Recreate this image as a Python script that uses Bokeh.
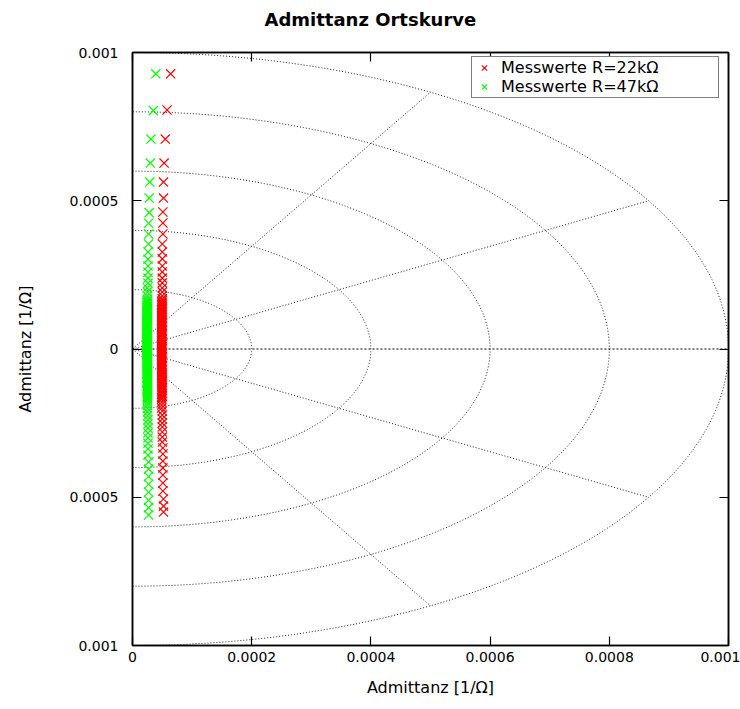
import numpy as np
from bokeh.plotting import figure
from bokeh.models import Range1d, LinearAxis, FixedTicker, Legend, LegendItem
from bokeh.embed import file_html
from bokeh.resources import INLINE

# ---------------- data (values in units of 1e-4 S) ----------------
UNIT = 1e-4

red_x_e4 = [
    # upper sparse part
    0.64, 0.58, 0.55, 0.53, 0.52, 0.52, 0.51, 0.51, 0.51, 0.50,
    0.50, 0.50, 0.50, 0.50, 0.50, 0.50, 0.50, 0.50, 0.50, 0.50,
    # dense part
    0.50, 0.49, 0.50, 0.49, 0.49, 0.50, 0.49, 0.50, 0.49, 0.49,
    0.50, 0.49, 0.49, 0.50, 0.49, 0.49, 0.50, 0.49, 0.49, 0.49,
    0.50, 0.49, 0.49, 0.49, 0.50, 0.49, 0.49, 0.49, 0.50, 0.49,
    0.49, 0.50, 0.49, 0.49, 0.49, 0.49, 0.50, 0.49, 0.49, 0.49,
    0.49, 0.50, 0.49, 0.49, 0.49, 0.50, 0.49, 0.49, 0.49, 0.49,
    0.50, 0.49, 0.49, 0.49, 0.50, 0.49, 0.49, 0.49, 0.50, 0.49,
    0.49, 0.49, 0.50, 0.49, 0.49, 0.50, 0.49, 0.49, 0.50, 0.49,
    0.49, 0.50, 0.49, 0.49, 0.50, 0.49, 0.50, 0.49, 0.49, 0.50,
    0.49, 0.50, 0.49, 0.50, 0.49, 0.50, 0.49, 0.50, 0.49, 0.49,
    # lower sparse part
    0.49, 0.49, 0.49, 0.50, 0.50, 0.50, 0.50, 0.50, 0.50, 0.50,
    0.50, 0.51, 0.51, 0.51, 0.51, 0.51, 0.51, 0.51, 0.52, 0.52, 0.52,
]
red_y_e4 = [
    9.28, 8.06, 7.08, 6.27, 5.63, 5.09, 4.62, 4.25, 3.88, 3.54,
    3.27, 3.04, 2.80, 2.60, 2.39, 2.23, 2.06, 1.92, 1.79, 1.69,
    1.63, 1.59, 1.55, 1.51, 1.47, 1.44, 1.40, 1.36, 1.33, 1.29,
    1.25, 1.22, 1.18, 1.15, 1.11, 1.07, 1.04, 1.00, 0.97, 0.93,
    0.90, 0.86, 0.83, 0.79, 0.76, 0.72, 0.69, 0.65, 0.62, 0.58,
    0.55, 0.51, 0.48, 0.44, 0.41, 0.37, 0.34, 0.30, 0.27, 0.23,
    0.20, 0.16, 0.13, 0.09, 0.06, 0.02, -0.01, -0.05, -0.08, -0.12,
    -0.15, -0.19, -0.22, -0.26, -0.29, -0.33, -0.36, -0.40, -0.43, -0.47,
    -0.51, -0.54, -0.58, -0.61, -0.65, -0.69, -0.72, -0.76, -0.80, -0.84,
    -0.87, -0.91, -0.95, -0.99, -1.03, -1.07, -1.11, -1.15, -1.19, -1.23,
    -1.27, -1.31, -1.36, -1.40, -1.45, -1.49, -1.54, -1.59, -1.64, -1.69,
    -1.79, -1.89, -1.99, -2.09, -2.23, -2.36, -2.50, -2.63, -2.80, -2.97,
    -3.14, -3.34, -3.54, -3.78, -4.01, -4.25, -4.52, -4.79, -5.06, -5.30, -5.50,
]

green_x_e4 = [
    0.39, 0.35, 0.31, 0.30, 0.29, 0.28, 0.28, 0.27, 0.27, 0.27,
    0.26, 0.26, 0.26, 0.26, 0.26, 0.26, 0.25, 0.25, 0.25, 0.25,
    0.25, 0.24, 0.25, 0.25, 0.24, 0.25, 0.24, 0.25, 0.25, 0.24,
    0.25, 0.24, 0.25, 0.24, 0.25, 0.25, 0.24, 0.25, 0.24, 0.25,
    0.24, 0.25, 0.24, 0.24, 0.25, 0.24, 0.25, 0.24, 0.24, 0.25,
    0.24, 0.24, 0.25, 0.24, 0.24, 0.25, 0.24, 0.24, 0.25, 0.24,
    0.24, 0.25, 0.24, 0.24, 0.25, 0.24, 0.25, 0.24, 0.24, 0.25,
    0.24, 0.25, 0.24, 0.25, 0.24, 0.25, 0.25, 0.24, 0.25, 0.24,
    0.25, 0.25, 0.24, 0.25, 0.25, 0.24, 0.25, 0.25, 0.24, 0.25,
    0.25, 0.25, 0.24, 0.25, 0.25, 0.25, 0.24, 0.25, 0.25, 0.25,
    0.25, 0.25, 0.25, 0.24, 0.25, 0.25, 0.25, 0.25, 0.25, 0.25,
    0.25, 0.25, 0.25, 0.25, 0.25, 0.26, 0.26, 0.26, 0.26, 0.26,
    0.26, 0.26, 0.26, 0.27, 0.27, 0.27, 0.27, 0.27, 0.27, 0.27, 0.27,
]
green_y_e4 = [
    9.28, 8.04, 7.08, 6.27, 5.63, 5.09, 4.60, 4.24, 3.88, 3.54,
    3.27, 3.03, 2.80, 2.59, 2.39, 2.22, 2.06, 1.92, 1.79, 1.68,
    1.62, 1.58, 1.54, 1.50, 1.47, 1.43, 1.39, 1.36, 1.32, 1.28,
    1.25, 1.21, 1.17, 1.14, 1.10, 1.07, 1.03, 1.00, 0.96, 0.92,
    0.89, 0.85, 0.82, 0.78, 0.75, 0.71, 0.68, 0.64, 0.61, 0.57,
    0.54, 0.50, 0.47, 0.43, 0.40, 0.36, 0.33, 0.29, 0.26, 0.22,
    0.19, 0.15, 0.12, 0.08, 0.05, 0.01, -0.02, -0.06, -0.09, -0.13,
    -0.16, -0.20, -0.23, -0.27, -0.30, -0.34, -0.37, -0.41, -0.45, -0.48,
    -0.52, -0.55, -0.59, -0.63, -0.66, -0.70, -0.74, -0.77, -0.81, -0.85,
    -0.89, -0.92, -0.96, -1.00, -1.04, -1.08, -1.12, -1.16, -1.20, -1.24,
    -1.28, -1.33, -1.37, -1.41, -1.46, -1.50, -1.55, -1.60, -1.65, -1.70,
    -1.80, -1.90, -2.01, -2.12, -2.25, -2.39, -2.53, -2.67, -2.83, -3.00,
    -3.18, -3.37, -3.58, -3.81, -4.05, -4.30, -4.56, -4.83, -5.10, -5.35, -5.60,
]

series_labels = ["Messwerte R=22kΩ", "Messwerte R=47kΩ"]
series_colors = ["#ff0000", "#00ff00"]

x_ticks = [0, 0.0002, 0.0004, 0.0006, 0.0008, 0.001]
x_tick_labels = ["0", "0.0002", "0.0004", "0.0006", "0.0008", "0.001"]
y_ticks = [-0.001, -0.0005, 0, 0.0005, 0.001]
y_tick_labels = ["0.001", "0.0005", "0", "0.0005", "0.001"]

grid_radii = [0.0002, 0.0004, 0.0006, 0.0008, 0.001]
grid_angles_deg = [-60, -30, 30, 60]
grid_rmax = 0.001

title_text = "Admittanz Ortskurve"
x_label = "Admittanz [1/Ω]"
y_label = "Admittanz [1/Ω]"

# ---------------- figure ----------------
FONT = "DejaVu Sans"

p = figure(width=740, height=709, output_backend="svg", toolbar_location=None,
           x_range=Range1d(0, 0.001), y_range=Range1d(-0.001, 0.001),
           min_border_left=132, min_border_right=12, min_border_top=52,
           min_border_bottom=64, title=title_text)
p.grid.visible = False
p.background_fill_color = "white"
p.border_fill_color = "white"
p.outline_line_color = "black"
p.outline_line_width = 1.5

p.title.text_font = FONT
p.title.text_font_size = "18px"
p.title.text_font_style = "bold"
p.title.text_color = "black"
p.title.align = "left"
p.title.offset = 132
try:
    p.title.standoff = 4
except Exception:
    pass


def style_axis(ax, ticks, labels):
    ax.ticker = FixedTicker(ticks=ticks)
    ax.minor_tick_line_color = None
    ax.major_tick_in = 9
    ax.major_tick_out = 0
    ax.major_tick_line_color = "black"
    ax.major_tick_line_width = 1.2
    ax.axis_line_color = "black"
    ax.axis_line_width = 1.5
    ax.major_label_overrides = dict(zip(ticks, labels))
    ax.major_label_text_font = FONT
    ax.major_label_text_font_size = "14px"
    ax.major_label_text_color = "black"


xa = p.xaxis[0]
style_axis(xa, x_ticks, x_tick_labels)
xa.major_label_standoff = 6
xa.axis_label = x_label
xa.axis_label_text_font = FONT
xa.axis_label_text_font_size = "16px"
xa.axis_label_text_font_style = "normal"
xa.axis_label_text_color = "black"
xa.axis_label_standoff = 13

ya = p.yaxis[0]
style_axis(ya, y_ticks, y_tick_labels)
ya.major_label_standoff = 14
ya.axis_label = y_label
ya.axis_label_text_font = FONT
ya.axis_label_text_font_size = "16px"
ya.axis_label_text_font_style = "normal"
ya.axis_label_text_color = "black"
ya.axis_label_standoff = 32

# mirrored tick marks (no labels) on top and right
top_ax = LinearAxis()
style_axis(top_ax, x_ticks, [""] * len(x_ticks))
top_ax.major_label_standoff = 0
p.add_layout(top_ax, "above")
right_ax = LinearAxis()
style_axis(right_ax, y_ticks, [""] * len(y_ticks))
right_ax.major_label_standoff = 0
p.add_layout(right_ax, "right")

# invisible spacer between the top ticks and the title
spacer_ax = LinearAxis()
style_axis(spacer_ax, x_ticks, [""] * len(x_ticks))
spacer_ax.major_tick_in = 0
spacer_ax.major_tick_out = 21
spacer_ax.major_tick_line_alpha = 0
spacer_ax.axis_line_alpha = 0
spacer_ax.major_label_standoff = 0
p.add_layout(spacer_ax, "above")

# ---------------- polar grid ----------------
theta = np.linspace(-np.pi / 2, np.pi / 2, 361)
for r in grid_radii:
    p.line(r * np.cos(theta), r * np.sin(theta), line_color="#222222",
           line_alpha=1.0, line_width=1, line_dash="1 2")
for a in grid_angles_deg:
    t = np.deg2rad(a)
    p.line([0, grid_rmax * np.cos(t)], [0, grid_rmax * np.sin(t)],
           line_color="#222222", line_alpha=1.0, line_width=1, line_dash="1 2")
p.line([0, grid_rmax], [0, 0], line_color="black", line_width=1, line_dash="2 2")

# ---------------- data ----------------
red_x = [v * UNIT for v in red_x_e4]
red_y = [v * UNIT for v in red_y_e4]
green_x = [v * UNIT for v in green_x_e4]
green_y = [v * UNIT for v in green_y_e4]

r_red = p.scatter(red_x, red_y, marker="x", size=13, line_color=series_colors[0],
                  line_width=1.2)
r_green = p.scatter(green_x, green_y, marker="x", size=13,
                    line_color=series_colors[1], line_width=1.2)

legend = Legend(items=[LegendItem(label=series_labels[0], renderers=[r_red]),
                       LegendItem(label=series_labels[1], renderers=[r_green])],
                location=(339, 547), orientation="vertical", margin=0,
                padding=1, spacing=0, glyph_width=22, glyph_height=19,
                label_height=19, label_standoff=6, label_width=216,
                label_text_font=FONT, label_text_font_size="16px",
                label_text_color="black",
                border_line_color="black", border_line_width=1.5,
                background_fill_color="white", background_fill_alpha=1)
p.add_layout(legend)

open("out.html", "w").write(file_html(p, INLINE))
